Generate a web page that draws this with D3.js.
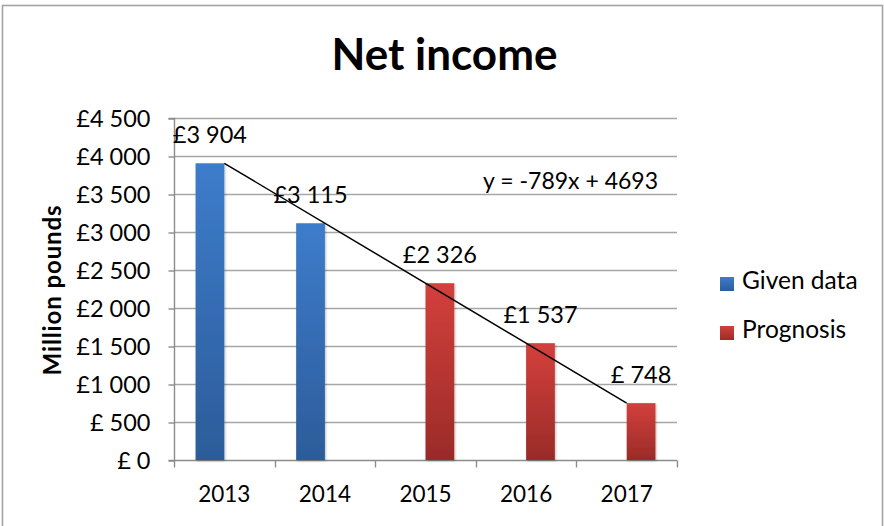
<!DOCTYPE html>
<html>
<head>
<meta charset="utf-8">
<script src="https://cdn.jsdelivr.net/npm/d3@7"></script>
<style>
  html, body { margin: 0; padding: 0; background: #fff; }
  svg { display: block; font-family: Lato, "Open Sans", sans-serif; }
</style>
</head>
<body>
<svg id="chart" width="884" height="526"></svg>
<script>
// Net income per year: reported figures and forecast
const years = ["2013", "2014", "2015", "2016", "2017"];
const givenData = [3904, 3115, null, null, null];
const prognosis = [null, null, 2326, 1537, 748];
const yTicks = [0, 500, 1000, 1500, 2000, 2500, 3000, 3500, 4000, 4500];
const trendSlope = -789;
const trendIntercept = 4693;
const seriesNames = ["Given data", "Prognosis"];

const svg = d3.select("#chart");

// pound format with a space as the thousands separator, e.g. "£3 904", "£ 748"
function pounds(v) {
  const th = Math.floor(v / 1000), rest = v % 1000;
  if (th === 0) return "£ " + rest;
  return "£" + th + " " + String(rest).padStart(3, "0");
}

const plot = { left: 174, right: 677, top: 118, bottom: 460 };

const x = d3.scaleBand().domain(years).range([plot.left, plot.right]).paddingInner(0).paddingOuter(0);
const y = d3.scaleLinear().domain([0, 4500]).range([plot.bottom, plot.top]);
const barW = x.bandwidth() / 3.5;

const defs = svg.append("defs");
function grad(id, top, bottom) {
  const g = defs.append("linearGradient").attr("id", id).attr("x1", 0).attr("y1", 0).attr("x2", 0).attr("y2", 1);
  g.append("stop").attr("offset", "0%").attr("stop-color", top);
  g.append("stop").attr("offset", "100%").attr("stop-color", bottom);
}
grad("gBlue", "#3d7ccb", "#2c5c9a");
grad("gRed", "#d3403c", "#9a2b28");
const f = defs.append("filter").attr("id", "shadow").attr("x", "-30%").attr("y", "-10%").attr("width", "160%").attr("height", "120%");
f.append("feDropShadow").attr("dx", 1).attr("dy", 1).attr("stdDeviation", 1.2).attr("flood-color", "#000").attr("flood-opacity", 0.25);

// outer frame
svg.append("rect").attr("x", 2.5).attr("y", 5.5).attr("width", 880).attr("height", 530)
  .attr("fill", "none").attr("stroke", "#a3a3a3").attr("stroke-width", 1.6);

// title
svg.append("text").attr("x", 444.5).attr("y", 70).attr("text-anchor", "middle")
  .attr("font-weight", 700).attr("font-size", 44).attr("fill", "#000").text("Net income");

// gridlines
svg.append("g").selectAll("line").data(yTicks.filter(d => d > 0)).join("line")
  .attr("x1", plot.left).attr("x2", plot.right)
  .attr("y1", d => y(d) + 0.5).attr("y2", d => y(d) + 0.5)
  .attr("stroke", "#a6a6a6").attr("stroke-width", 1.4);

// y axis
const yAxis = d3.axisLeft(y).tickValues(yTicks).tickFormat(pounds).tickSize(6).tickPadding(18);
const gy = svg.append("g").attr("transform", `translate(${plot.left + 0.5},0.5)`).call(yAxis);
gy.select(".domain").attr("stroke", "#8c8c8c").attr("stroke-width", 1.4).attr("d", `M-6,${plot.top}H0V${plot.bottom}H-6`);
gy.selectAll(".tick line").attr("stroke", "#8c8c8c").attr("stroke-width", 1.4);
gy.selectAll(".tick text").attr("font-size", 23.5).attr("fill", "#000").attr("font-family", "Lato, sans-serif");

// x axis
const xAxis = d3.axisBottom(x).tickSize(0).tickPadding(0);
const gx = svg.append("g").attr("transform", `translate(0,${plot.bottom + 0.5})`).call(xAxis);
gx.select(".domain").attr("stroke", "#8c8c8c").attr("stroke-width", 1.4).attr("d", `M${plot.left},0H${plot.right}`);
gx.selectAll(".tick text").attr("font-size", 22.5).attr("fill", "#000").attr("font-family", "Lato, sans-serif")
  .attr("dy", null).attr("y", 41);
// category boundary ticks
const bounds = years.map(d => x(d)).concat([x(years[years.length - 1]) + x.bandwidth()]);
gx.append("g").selectAll("line").data(bounds).join("line")
  .attr("x1", d => Math.round(d) + 0.5).attr("x2", d => Math.round(d) + 0.5)
  .attr("y1", 0).attr("y2", 7).attr("stroke", "#8c8c8c").attr("stroke-width", 1.4);

// y axis title
svg.append("text").attr("transform", "translate(61,290) rotate(-90)").attr("text-anchor", "middle")
  .attr("font-weight", 700).attr("font-size", 24).attr("letter-spacing", 0.9).attr("fill", "#000").text("Million pounds");

// bars
const rows = years.map((yr, i) => ({ yr, given: givenData[i], prog: prognosis[i] }));
const bars = svg.append("g");
bars.selectAll("rect.given").data(rows.filter(d => d.given != null)).join("rect")
  .attr("class", "given")
  .attr("x", d => x(d.yr) + x.bandwidth() / 2 - barW)
  .attr("y", d => y(d.given)).attr("width", barW).attr("height", d => y(0) - y(d.given))
  .attr("fill", "url(#gBlue)").attr("filter", "url(#shadow)");
bars.selectAll("rect.prog").data(rows.filter(d => d.prog != null)).join("rect")
  .attr("class", "prog")
  .attr("x", d => x(d.yr) + x.bandwidth() / 2)
  .attr("y", d => y(d.prog)).attr("width", barW).attr("height", d => y(0) - y(d.prog))
  .attr("fill", "url(#gRed)").attr("filter", "url(#shadow)");

// linear trendline over categories 1..5
const tx0 = 1, tx1 = years.length;
svg.append("line")
  .attr("x1", x(years[tx0 - 1]) + x.bandwidth() / 2).attr("y1", y(trendSlope * tx0 + trendIntercept))
  .attr("x2", x(years[tx1 - 1]) + x.bandwidth() / 2).attr("y2", y(trendSlope * tx1 + trendIntercept))
  .attr("stroke", "#000").attr("stroke-width", 1.5);
svg.append("text").attr("x", 658).attr("y", 189).attr("text-anchor", "end")
  .attr("font-size", 23).attr("fill", "#000").text("y = " + trendSlope + "x + " + trendIntercept);

// data labels
const labels = svg.append("g").attr("font-size", 23.5).attr("fill", "#000").attr("text-anchor", "middle");
labels.selectAll("text.given").data(rows.filter(d => d.given != null)).join("text")
  .attr("x", d => x(d.yr) + x.bandwidth() / 2 - barW / 2)
  .attr("y", d => y(d.given) - 20).text(d => pounds(d.given));
labels.selectAll("text.prog").data(rows.filter(d => d.prog != null)).join("text")
  .attr("x", d => x(d.yr) + x.bandwidth() / 2 + barW / 2)
  .attr("y", d => y(d.prog) - 20).text(d => pounds(d.prog));

// legend
const legend = svg.append("g");
const legendFill = ["url(#gBlue)", "url(#gRed)"];
const lg = legend.selectAll("g").data(seriesNames).join("g")
  .attr("transform", (d, i) => `translate(720,${277 + i * 49})`);
lg.append("rect").attr("width", 14).attr("height", 14).attr("fill", (d, i) => legendFill[i]);
lg.append("text").attr("x", 22).attr("y", 12).attr("font-size", 24.5).attr("fill", "#000").text(d => d);
</script>
</body>
</html>
